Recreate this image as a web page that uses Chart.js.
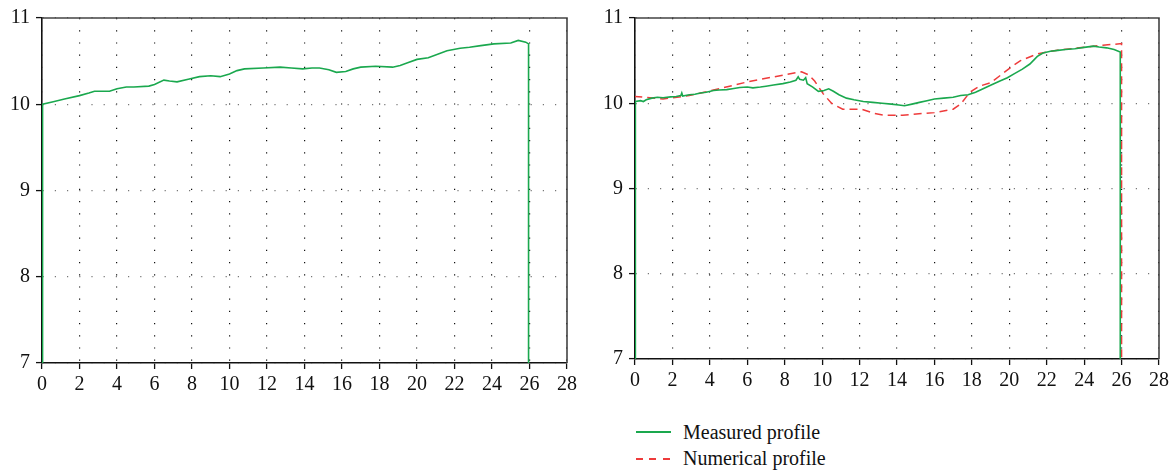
<!DOCTYPE html>
<html>
<head>
<meta charset="utf-8">
<script src="https://cdn.jsdelivr.net/npm/chart.js"></script>
<style>
    body { margin: 0; background: #fff; width: 1174px; height: 472px; position: relative; overflow: hidden; }
    canvas { position: absolute; top: 0; }
    #leftChart { left: 0; }
    #rightChart { left: 593px; }
    .legend-line { position: absolute; left: 636px; width: 35px; height: 1.5px; }
    .legend-text { position: absolute; left: 683px; font-family: "Liberation Serif", serif; font-size: 20px; color: #111; line-height: 24px; }
</style>
</head>
<body>
<canvas id="leftChart" width="590" height="400"></canvas>
<canvas id="rightChart" width="581" height="400"></canvas>

<div class="legend-line" style="top:431px; background:#1aa84e;"></div>
<div class="legend-text" style="top:420px;">Measured profile</div>
<div class="legend-line" style="top:458px; background: repeating-linear-gradient(90deg, #ee3b3b 0 7px, transparent 7px 13.5px);"></div>
<div class="legend-text" style="top:446px;">Numerical profile</div>

<script>
// axis ranges / ticks
const xMin = 0, xMax = 28, xStep = 2;
const yMin = 7, yMax = 11, yStep = 1;

// left panel: measured profile
const leftX = [0, 0.03, 0.6, 1.2, 2.0, 2.5, 2.8, 3.6, 4.0, 4.5, 4.9, 5.7, 6.0, 6.5, 6.8, 7.2, 7.8, 8.4, 9.0, 9.5, 10.0, 10.4, 10.8, 11.8, 12.7, 13.3, 13.9, 14.4, 14.8, 15.3, 15.7, 16.2, 16.6, 17.0, 17.8, 18.7, 19.1, 19.5, 20.0, 20.6, 21.1, 21.6, 22.3, 22.8, 23.4, 24.1, 25.0, 25.4, 25.8, 25.95, 25.95];
const leftY = [7.0, 10.0, 10.03, 10.06, 10.10, 10.13, 10.15, 10.15, 10.18, 10.20, 10.20, 10.21, 10.23, 10.28, 10.27, 10.26, 10.29, 10.32, 10.33, 10.32, 10.35, 10.39, 10.41, 10.42, 10.43, 10.42, 10.41, 10.42, 10.42, 10.40, 10.37, 10.38, 10.41, 10.43, 10.44, 10.43, 10.45, 10.48, 10.52, 10.54, 10.58, 10.62, 10.65, 10.66, 10.68, 10.70, 10.71, 10.74, 10.72, 10.70, 7.0];

// right panel: measured profile (noisy trace)
const measuredX = [0, 0.02, 0.3, 0.45, 0.6, 0.9, 1.2, 1.5, 1.9, 2.2, 2.45, 2.5, 2.55, 2.9, 3.2, 3.5, 3.8, 4.2, 4.5, 4.9, 5.2, 5.6, 6.0, 6.3, 6.7, 7.0, 7.4, 7.9, 8.3, 8.6, 8.72, 8.8, 9.0, 9.12, 9.2, 9.5, 9.8, 10.1, 10.35, 10.6, 10.9, 11.3, 11.7, 12.2, 12.7, 13.2, 13.7, 14.1, 14.4, 14.8, 15.2, 15.6, 16.0, 16.5, 17.0, 17.4, 17.8, 18.2, 18.6, 19.0, 19.5, 19.9, 20.3, 20.7, 21.1, 21.5, 21.8, 22.2, 22.6, 23.0, 23.5, 24.0, 24.5, 24.8, 25.2, 25.6, 25.93, 25.93];
const measuredY = [7.0, 10.02, 10.03, 10.02, 10.04, 10.06, 10.07, 10.065, 10.075, 10.08, 10.09, 10.12, 10.085, 10.10, 10.105, 10.12, 10.13, 10.15, 10.155, 10.16, 10.17, 10.185, 10.19, 10.18, 10.19, 10.20, 10.215, 10.23, 10.25, 10.27, 10.31, 10.28, 10.27, 10.30, 10.23, 10.19, 10.14, 10.15, 10.17, 10.14, 10.10, 10.06, 10.04, 10.02, 10.01, 10.00, 9.99, 9.98, 9.97, 9.99, 10.01, 10.03, 10.05, 10.06, 10.07, 10.09, 10.10, 10.13, 10.17, 10.21, 10.26, 10.30, 10.35, 10.40, 10.46, 10.55, 10.59, 10.61, 10.62, 10.63, 10.64, 10.655, 10.67, 10.66, 10.65, 10.63, 10.60, 7.0];

// right panel: numerical profile
const numericalX = [-0.04, -0.04, 0.5, 1.5, 2.9, 4.5, 6.0, 7.9, 8.9, 9.3, 9.6, 10.06, 10.5, 11.1, 12.1, 12.8, 13.3, 14.3, 15.4, 16.0, 17.0, 17.4, 17.9, 18.4, 19.0, 19.6, 20.2, 20.6, 21.5, 22.5, 24.1, 25.0, 26.0, 26.0];
const numericalY = [7.0, 10.08, 10.07, 10.05, 10.09, 10.17, 10.25, 10.33, 10.37, 10.33, 10.26, 10.11, 10.00, 9.93, 9.93, 9.88, 9.86, 9.86, 9.88, 9.89, 9.93, 9.99, 10.13, 10.20, 10.24, 10.34, 10.44, 10.50, 10.58, 10.62, 10.66, 10.68, 10.70, 7.0];

const green = '#1aa84e';
const red = '#ee3b3b';
const tickFont = { family: 'Liberation Serif', size: 20 };

const toPoints = (xs, ys) => xs.map((x, i) => ({ x: x, y: ys[i] }));

// top and right edge of the box
const framePlugin = {
    id: 'frame',
    afterDraw(chart) {
        const { ctx, chartArea } = chart;
        ctx.save();
        ctx.strokeStyle = '#444';
        ctx.lineWidth = 1.6;
        ctx.beginPath();
        ctx.moveTo(chartArea.left, chartArea.top);
        ctx.lineTo(chartArea.right, chartArea.top);
        ctx.lineTo(chartArea.right, chartArea.bottom);
        ctx.stroke();
        ctx.restore();
    }
};

function makeOptions(padding, xHeight) {
    return {
        responsive: false,
        animation: false,
        layout: { padding: padding },
        plugins: {
            legend: { display: false },
            tooltip: { enabled: false }
        },
        scales: {
            x: {
                type: 'linear',
                min: xMin,
                max: xMax,
                afterFit: (scale) => { scale.height = xHeight; },
                ticks: { stepSize: xStep, color: '#111', font: tickFont, padding: 4, maxRotation: 0 },
                grid: { color: '#111', lineWidth: 1.2, tickLength: 6, tickColor: '#111', tickWidth: 1.3 },
                border: { color: '#111', width: 1.6, dash: [1.2, 11] }
            },
            y: {
                min: yMin,
                max: yMax,
                afterFit: (scale) => { scale.width = 42; },
                ticks: { stepSize: yStep, color: '#111', font: tickFont, padding: 6 },
                grid: { color: '#777', lineWidth: 1.2, tickLength: 6, tickColor: '#111', tickWidth: 1.3 },
                border: { color: '#111', width: 1.6, dash: [1.2, 11] }
            }
        }
    };
}

new Chart(document.getElementById('leftChart'), {
    type: 'scatter',
    data: {
        datasets: [{
            label: 'Measured profile',
            data: toPoints(leftX, leftY),
            showLine: true,
            borderColor: green,
            borderWidth: 1.6,
            pointRadius: 0,
            tension: 0
        }]
    },
    options: makeOptions({ top: 17, right: 23, left: 0, bottom: 0 }, 37),
    plugins: [framePlugin]
});

new Chart(document.getElementById('rightChart'), {
    type: 'scatter',
    data: {
        datasets: [{
            label: 'Measured profile',
            data: toPoints(measuredX, measuredY),
            showLine: true,
            borderColor: green,
            borderWidth: 1.6,
            pointRadius: 0,
            tension: 0
        }, {
            label: 'Numerical profile',
            data: toPoints(numericalX, numericalY),
            showLine: true,
            borderColor: red,
            borderWidth: 1.5,
            borderDash: [8, 5],
            pointRadius: 0,
            tension: 0
        }]
    },
    options: makeOptions({ top: 15, right: 15, left: 0, bottom: 0 }, 41),
    plugins: [framePlugin]
});
</script>
</body>
</html>
